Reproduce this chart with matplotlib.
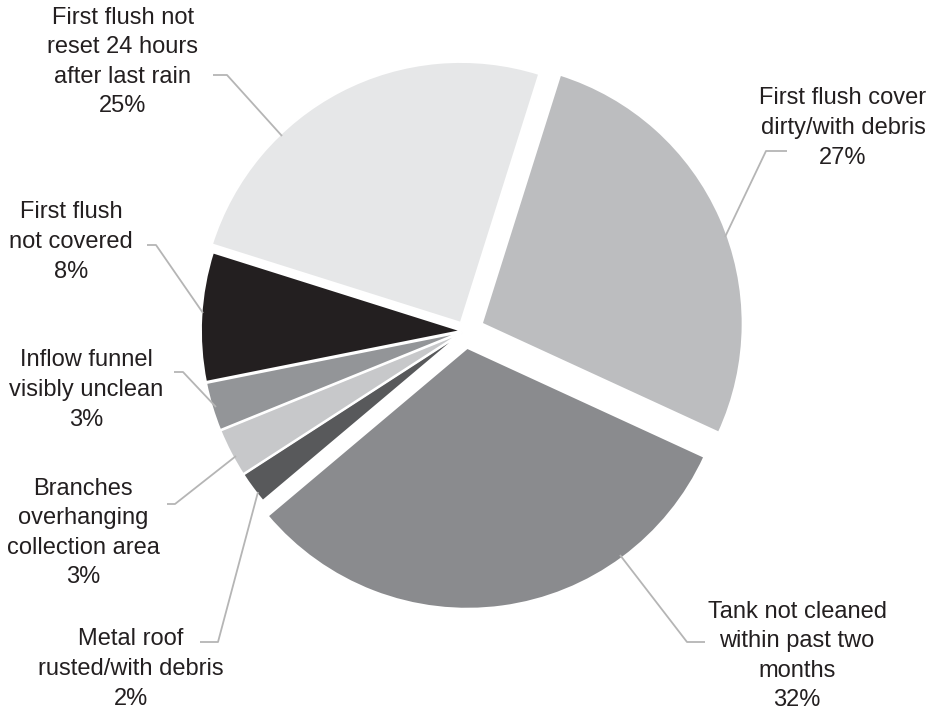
import numpy as np
import matplotlib.pyplot as plt

plt.rcParams['font.family'] = ['Liberation Sans', 'DejaVu Sans']

# datos del grafico (orden horario desde arriba)
labels = [
    'First flush cover\ndirty/with debris',
    'Tank not cleaned\nwithin past two\nmonths',
    'Metal roof\nrusted/with debris',
    'Branches\noverhanging\ncollection area',
    'Inflow funnel\nvisibly unclean',
    'First flush\nnot covered',
    'First flush not\nreset 24 hours\nafter last rain',
]
values = [27, 32, 2, 3, 3, 8, 25]
colors = ['#bcbdbf', '#8a8b8e', '#58595b', '#c7c8ca', '#939598', '#231f20', '#e6e7e8']
explode = [0.07, 0.065, 0.012, 0.012, 0.012, 0.012, 0.035]

W, H = 933, 712
CX, CY, R = 465, 331, 261


def px(x, y):
    # pixeles de la imagen -> coordenadas de datos
    return (x - CX) / R, (CY - y) / R


# posicion del texto y recorrido de la linea guia (en pixeles)
label_pos = [(843, 128), (797, 656), (131, 669), (83, 533), (86, 390), (71, 242), (123, 62)]
leaders = [
    [(787, 151), (766, 151), (725, 237)],
    [(705, 642), (687, 642), (620, 555)],
    [(200, 642), (218, 642), (258, 492)],
    [(167, 504), (175, 504), (236, 456)],
    [(174, 372), (183, 372), (216, 407)],
    [(147, 245), (156, 245), (203, 313)],
    [(213, 75), (227, 75), (282, 136)],
]

fig = plt.figure(figsize=(W / 100, H / 100), dpi=100)
ax = fig.add_axes([0, 0, 1, 1])

ax.pie(values, colors=colors, explode=explode, startangle=72.5, counterclock=False,
       radius=1.0, wedgeprops=dict(edgecolor='white', linewidth=1.5))

for lab, v, (tx, ty), path in zip(labels, values, label_pos, leaders):
    x, y = px(tx, ty)
    ax.text(x, y, f'{lab}\n{v}%', ha='center', va='center', fontsize=17,
            color='#231f20', linespacing=1.45)
    pts = np.array([px(a, b) for a, b in path])
    ax.plot(pts[:, 0], pts[:, 1], color='#b5b5b5', lw=1.3, solid_capstyle='butt')

ax.set_xlim(-CX / R, (W - CX) / R)
ax.set_ylim(-(H - CY) / R, CY / R)
ax.set_aspect('equal')
ax.axis('off')

plt.savefig('out.png', dpi=100)
